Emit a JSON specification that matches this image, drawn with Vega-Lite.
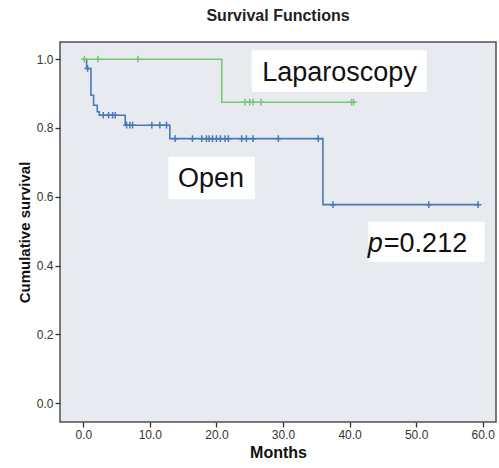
{
  "$schema": "https://vega.github.io/schema/vega-lite/v6.json",
  "width": 436,
  "height": 380,
  "autosize": {"type": "none"},
  "padding": {"left": 60, "top": 42, "right": 3, "bottom": 46},
  "background": "white",
  "config": {
    "view": {"fill": "#e7eaee", "stroke": "#505050", "strokeWidth": 1.5},
    "font": "Liberation Sans"
  },
  "title": {"text": "Survival Functions", "fontSize": 16, "fontWeight": "bold", "font": "Liberation Sans", "color": "#222222", "offset": 18, "anchor": "middle"},
  "datasets": {
    "curves": [
      {"group": "Open", "t": 0, "s": 1.0},
      {"group": "Open", "t": 0.5, "s": 0.973},
      {"group": "Open", "t": 1.15, "s": 0.895},
      {"group": "Open", "t": 1.55, "s": 0.866},
      {"group": "Open", "t": 2.1, "s": 0.847},
      {"group": "Open", "t": 2.4, "s": 0.837},
      {"group": "Open", "t": 6.3, "s": 0.808},
      {"group": "Open", "t": 13.0, "s": 0.769},
      {"group": "Open", "t": 36.0, "s": 0.577},
      {"group": "Open", "t": 59.5, "s": 0.577},
      {"group": "Laparoscopy", "t": 0, "s": 1.0},
      {"group": "Laparoscopy", "t": 20.8, "s": 0.875},
      {"group": "Laparoscopy", "t": 40.8, "s": 0.875}
    ],
    "censored": [
      {"group": "Open", "t": 0.65, "s": 0.973},
      {"group": "Open", "t": 3.0, "s": 0.837},
      {"group": "Open", "t": 3.8, "s": 0.837},
      {"group": "Open", "t": 4.4, "s": 0.837},
      {"group": "Open", "t": 4.8, "s": 0.837},
      {"group": "Open", "t": 6.5, "s": 0.808},
      {"group": "Open", "t": 7.0, "s": 0.808},
      {"group": "Open", "t": 7.4, "s": 0.808},
      {"group": "Open", "t": 10.3, "s": 0.808},
      {"group": "Open", "t": 11.5, "s": 0.808},
      {"group": "Open", "t": 12.5, "s": 0.808},
      {"group": "Open", "t": 13.8, "s": 0.769},
      {"group": "Open", "t": 16.4, "s": 0.769},
      {"group": "Open", "t": 17.8, "s": 0.769},
      {"group": "Open", "t": 18.5, "s": 0.769},
      {"group": "Open", "t": 18.9, "s": 0.769},
      {"group": "Open", "t": 19.4, "s": 0.769},
      {"group": "Open", "t": 20.0, "s": 0.769},
      {"group": "Open", "t": 20.6, "s": 0.769},
      {"group": "Open", "t": 21.3, "s": 0.769},
      {"group": "Open", "t": 21.8, "s": 0.769},
      {"group": "Open", "t": 23.8, "s": 0.769},
      {"group": "Open", "t": 24.5, "s": 0.769},
      {"group": "Open", "t": 25.5, "s": 0.769},
      {"group": "Open", "t": 29.3, "s": 0.769},
      {"group": "Open", "t": 35.3, "s": 0.769},
      {"group": "Open", "t": 37.5, "s": 0.577},
      {"group": "Open", "t": 51.9, "s": 0.577},
      {"group": "Open", "t": 59.3, "s": 0.577},
      {"group": "Laparoscopy", "t": 0.15, "s": 1.0},
      {"group": "Laparoscopy", "t": 2.2, "s": 1.0},
      {"group": "Laparoscopy", "t": 8.2, "s": 1.0},
      {"group": "Laparoscopy", "t": 24.3, "s": 0.875},
      {"group": "Laparoscopy", "t": 25.0, "s": 0.875},
      {"group": "Laparoscopy", "t": 25.5, "s": 0.875},
      {"group": "Laparoscopy", "t": 26.7, "s": 0.875},
      {"group": "Laparoscopy", "t": 40.3, "s": 0.875},
      {"group": "Laparoscopy", "t": 40.6, "s": 0.875}
    ],
    "boxes": [
      {"t1": 25.3, "t2": 51.6, "s1": 0.905, "s2": 1.026},
      {"t1": 12.8, "t2": 25.8, "s1": 0.593, "s2": 0.716},
      {"t1": 42.8, "t2": 60.3, "s1": 0.41, "s2": 0.527}
    ],
    "labels": [
      {"label": "Laparoscopy", "t": 38.5, "s": 0.937},
      {"label": "Open", "t": 19.2, "s": 0.629}
    ]
  },
  "encoding": {
    "x": {"field": "t", "type": "quantitative", "scale": {"domain": [-3.5, 62], "nice": false, "zero": false},
      "axis": {"title": "Months", "values": [0, 10, 20, 30, 40, 50, 60], "format": ".1f", "grid": false, "domain": false, "tickSize": 5, "tickColor": "#333333", "tickWidth": 1.3, "labelFontSize": 12, "labelColor": "#333333", "labelPadding": 2, "titleFontSize": 16, "titleFontWeight": "bold", "titleColor": "#111111", "titlePadding": 4}},
    "y": {"field": "s", "type": "quantitative", "scale": {"domain": [-0.055, 1.05], "nice": false, "zero": false},
      "axis": {"title": "Cumulative survival", "values": [0, 0.2, 0.4, 0.6, 0.8, 1.0], "format": ".1f", "grid": false, "domain": false, "tickSize": 5, "tickColor": "#333333", "tickWidth": 1.3, "labelFontSize": 12, "labelColor": "#333333", "labelPadding": 2, "titleFontSize": 15, "titleFontWeight": "bold", "titleColor": "#111111", "titlePadding": 4}}
  },
  "layer": [
    {
      "data": {"name": "curves"},
      "transform": [{"filter": "datum.group === 'Open'"}],
      "mark": {"type": "line", "interpolate": "step-after", "color": "#4a78ba", "strokeWidth": 1.6}
    },
    {
      "data": {"name": "curves"},
      "transform": [{"filter": "datum.group === 'Laparoscopy'"}],
      "mark": {"type": "line", "interpolate": "step-after", "color": "#7cc47b", "strokeWidth": 1.6}
    },
    {
      "data": {"name": "censored"},
      "mark": {"type": "point", "shape": "M0,-1L0,1M-1,0L1,0", "filled": false, "size": 45, "strokeWidth": 1.5, "opacity": 1},
      "encoding": {
        "color": {"field": "group", "type": "nominal", "scale": {"domain": ["Open", "Laparoscopy"], "range": ["#4a78ba", "#7cc47b"]}, "legend": null}
      }
    },
    {
      "data": {"name": "boxes"},
      "mark": {"type": "rect", "color": "white"},
      "encoding": {
        "x": {"field": "t1", "type": "quantitative"},
        "x2": {"field": "t2"},
        "y": {"field": "s1", "type": "quantitative"},
        "y2": {"field": "s2"}
      }
    },
    {
      "data": {"name": "labels"},
      "mark": {"type": "text", "fontSize": 27, "font": "Liberation Sans", "color": "#111111", "baseline": "alphabetic", "align": "center"},
      "encoding": {"text": {"field": "label"}}
    },
    {
      "data": {"values": [{"label": "p", "t": 45.0, "s": 0.438}]},
      "mark": {"type": "text", "fontSize": 27, "font": "Liberation Sans", "fontStyle": "italic", "color": "#111111", "baseline": "alphabetic", "align": "right"},
      "encoding": {"text": {"field": "label"}}
    },
    {
      "data": {"values": [{"label": "=0.212", "t": 45.15, "s": 0.438}]},
      "mark": {"type": "text", "fontSize": 27, "font": "Liberation Sans", "color": "#111111", "baseline": "alphabetic", "align": "left"},
      "encoding": {"text": {"field": "label"}}
    }
  ]
}
